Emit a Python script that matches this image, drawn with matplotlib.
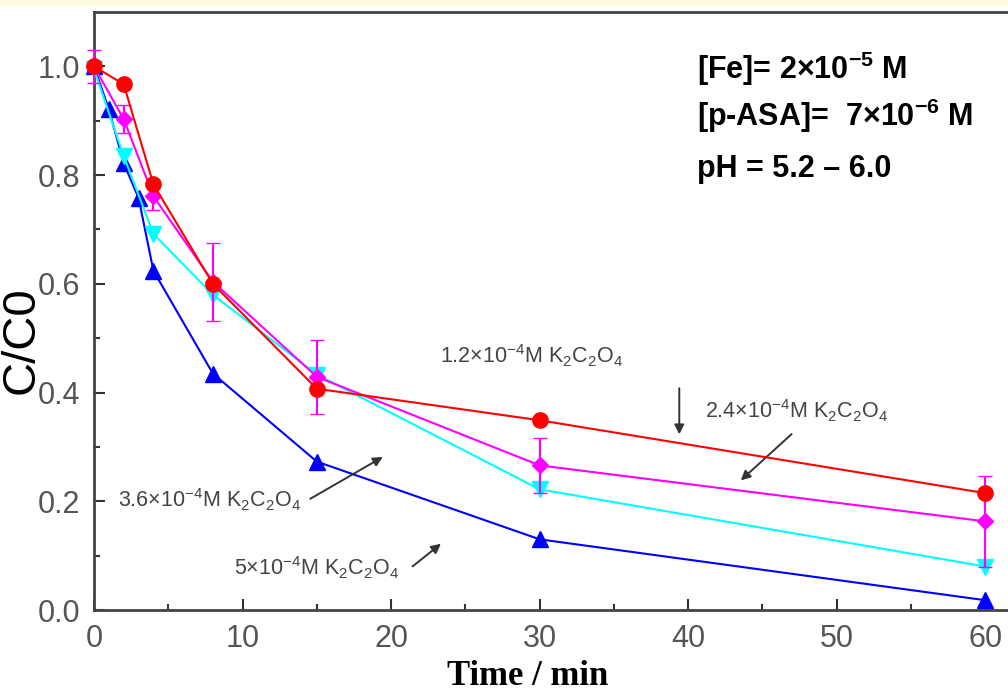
import numpy as np
import matplotlib
matplotlib.use("Agg")
import matplotlib.pyplot as plt
from matplotlib.patches import Rectangle

plt.rcParams['font.family'] = ['Liberation Sans', 'DejaVu Sans']
plt.rcParams['mathtext.default'] = 'regular'

# sampling times (min)
t_main = [0, 2, 4, 8, 15, 30, 60]
t_blue = [0, 1, 2, 3, 4, 8, 15, 30, 60]

# C/C0 for each oxalate dose
c_12 = [1.0, 0.967, 0.783, 0.600, 0.407, 0.349, 0.215]
c_24 = [1.0, 0.903, 0.761, 0.604, 0.429, 0.266, 0.163]
err_24 = [0.03, 0.026, 0.025, 0.072, 0.068, 0.05, 0.083]
c_36 = [0.995, 0.835, 0.692, 0.580, 0.433, 0.222, 0.080]
c_50 = [1.0, 0.921, 0.822, 0.758, 0.624, 0.435, 0.273, 0.130, 0.018]

fig = plt.figure(figsize=(10.08, 6.92), dpi=100)
fig.patches.append(Rectangle((0, 1 - 6 / 692), 1, 6 / 692, transform=fig.transFigure,
                             facecolor='#fffbdc', edgecolor='none'))
ax = fig.add_axes([94 / 1008, 82 / 692, 921 / 1008, 598 / 692])

ms = 11
ax.plot(t_blue, c_50, '-^', color='#0000ff', lw=1.5, ms=ms, clip_on=False, zorder=3)
ax.plot(t_main, c_36, '-v', color='#00ffff', lw=1.5, ms=ms, clip_on=False, zorder=4)
ax.errorbar(t_main, c_24, yerr=err_24, fmt='-D', color='#ff00ff', lw=1.5, ms=8,
            capsize=5, elinewidth=1.5, clip_on=False, zorder=5)
ax.plot(t_main, c_12, '-o', color='#ff0000', lw=1.5, ms=ms, clip_on=False, zorder=6)

ax.set_xlim(0, 62)
ax.set_ylim(0, 1.1)
ax.set_xticks(np.arange(0, 61, 10))
ax.set_xticks(np.arange(0, 61, 5), minor=True)
ax.set_yticks(np.arange(0, 1.01, 0.2))
ax.set_yticks(np.arange(0, 1.01, 0.1), minor=True)
ax.set_yticklabels(['0.0', '0.2', '0.4', '0.6', '0.8', '1.0'])
ax.tick_params(which='both', direction='in', colors='#333333', labelcolor='#555555',
               labelsize=22, width=1.5)
ax.tick_params(which='major', length=8, pad=10)
ax.tick_params(which='minor', length=4)
ax.spines['right'].set_visible(False)
for s in ['left', 'bottom', 'top']:
    ax.spines[s].set_linewidth(2)
    ax.spines[s].set_color('#444444')

fig.text(22 / 1008, 1 - 340 / 692, 'C/C0', rotation=90, ha='center', va='center',
         fontsize=34, color='black')
fig.text(528 / 1008, 1 - 685 / 692, 'Time / min', ha='center', va='baseline',
         fontsize=25, family='Liberation Serif', weight='bold', color='black')

# conditions
box_kw = dict(transform=ax.transAxes, fontsize=22, weight='bold', color='black',
              va='center')
ax.text(0.655, 0.905, r'[Fe]= 2$\times$10$^{-5}$ M', **box_kw)
ax.text(0.655, 0.826, r'[p-ASA]=  7$\times$10$^{-6}$ M', **box_kw)
ax.text(0.655, 0.738, 'pH = 5.2 – 6.0', **box_kw)

# dose labels with arrows
lab_kw = dict(fontsize=15.5, color='#444444', va='center')
arr = dict(arrowstyle='-|>', color='#333333', lw=1.4, mutation_scale=14)
ax.text(23.3, 0.468, r'1.2$\times$10$^{-4}$M K$_2$C$_2$O$_4$', **lab_kw)
ax.annotate('', xy=(39.4, 0.318), xytext=(39.4, 0.413), arrowprops=arr)
ax.text(41.1, 0.367, r'2.4$\times$10$^{-4}$M K$_2$C$_2$O$_4$', **lab_kw)
ax.annotate('', xy=(43.4, 0.235), xytext=(47.1, 0.327), arrowprops=arr)
ax.text(1.6, 0.202, r'3.6$\times$10$^{-4}$M K$_2$C$_2$O$_4$', **lab_kw)
ax.annotate('', xy=(19.6, 0.284), xytext=(14.4, 0.202), arrowprops=arr)
ax.text(9.4, 0.077, r'5$\times$10$^{-4}$M K$_2$C$_2$O$_4$', **lab_kw)
ax.annotate('', xy=(23.5, 0.125), xytext=(21.3, 0.077), arrowprops=arr)

fig.savefig('out.png', dpi=100)
